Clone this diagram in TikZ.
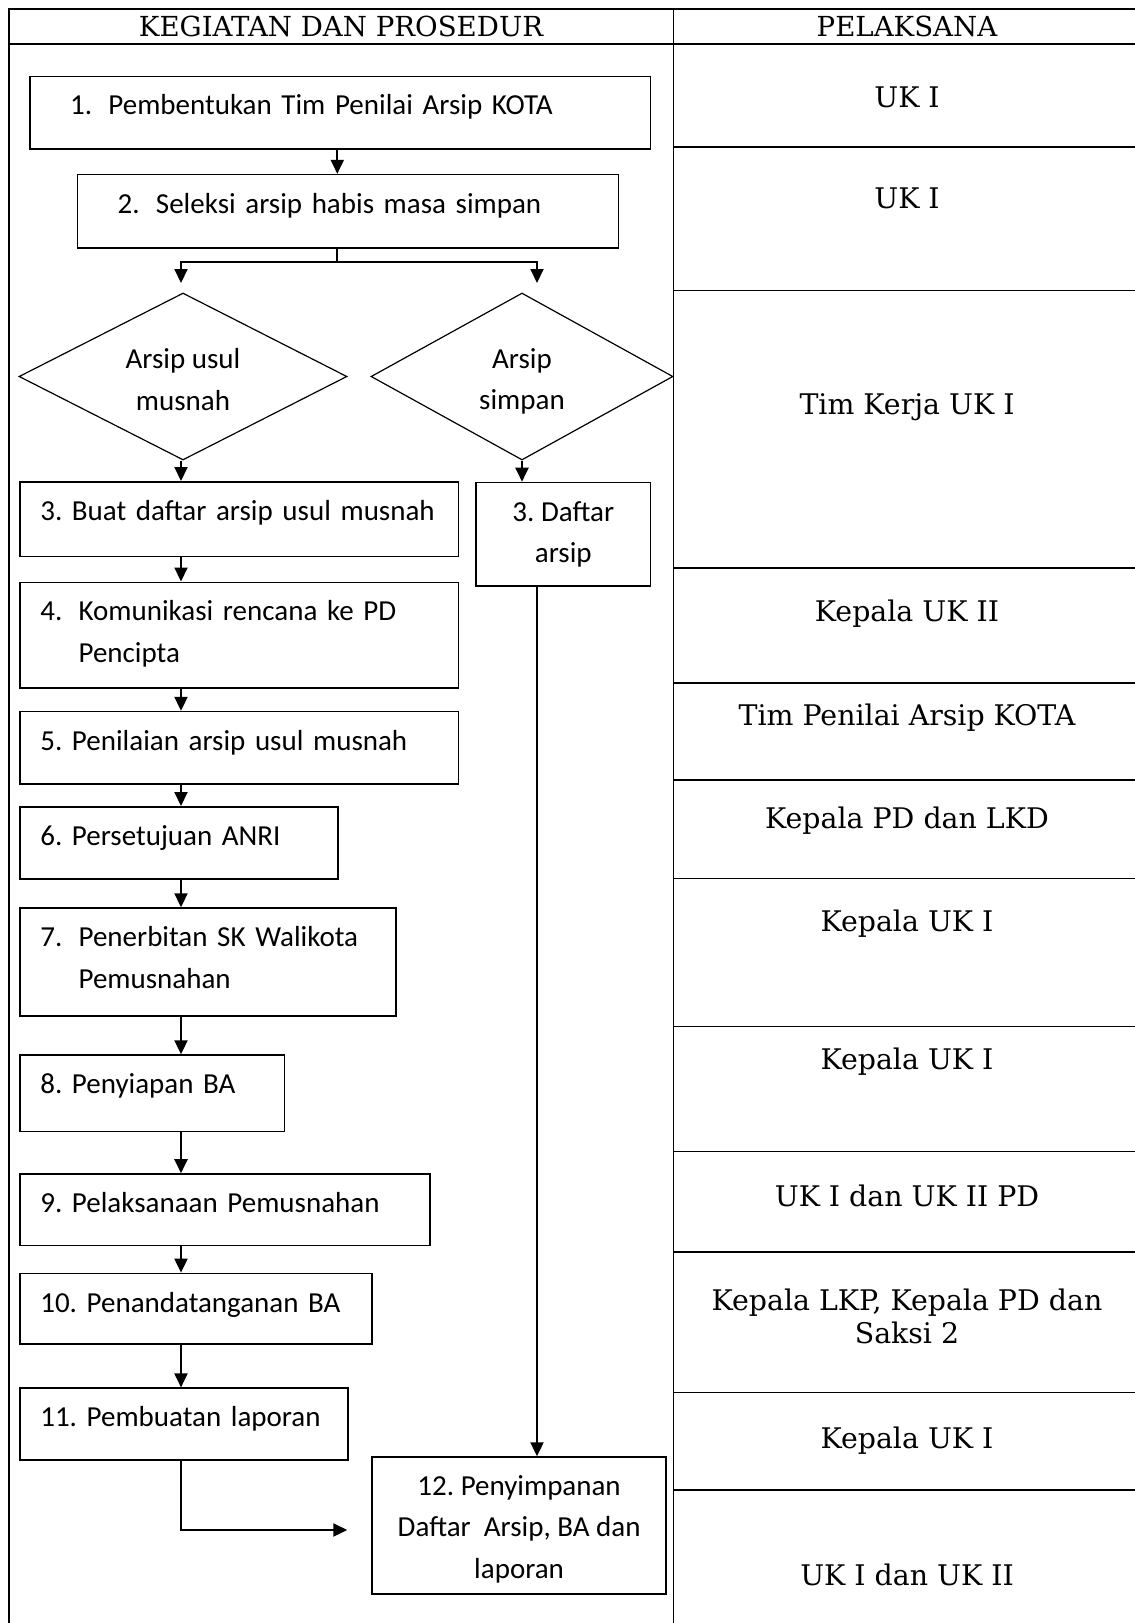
\documentclass[tikz,border=0pt]{standalone}
\usepackage{fontspec}
\setmainfont{DejaVu Serif}
\newfontfamily\calibri{Carlito}
\usetikzlibrary{arrows.meta,shapes.geometric}

\newcommand{\itemno}[1]{\makebox[38.3pt][l]{#1}}
\newcommand{\topstrut}[1]{\rule{0pt}{#1}}

\begin{document}
\begin{tikzpicture}[
  x=1pt, y=-1pt,
  >={Triangle[width=13pt,length=14pt]},
  boxfont/.style={font=\calibri\fontsize{29pt}{41.4pt}\selectfont\frenchspacing},
  proc/.style={draw, line width=1.6pt, anchor=north west, align=left, inner ysep=0pt, inner xsep=20.5pt,
    text height=38.6pt, boxfont},
  store/.style={draw, line width=1.6pt, anchor=north west, align=center, inner sep=0pt, boxfont},
  decision/.style={diamond, aspect=2, draw, line width=1.2pt, inner sep=0pt, minimum height=167pt,
    align=center, boxfont},
  head/.style={anchor=base, font=\fontsize{27.6pt}{33pt}\selectfont},
  pel/.style={anchor=base, font=\fontsize{28.4pt}{33pt}\selectfont},
  rule/.style={line width=1.5pt},
  line/.style={line width=2pt},
  arrow/.style={->, line width=2pt}
]
\useasboundingbox (0,0) rectangle (1135,1623);

% Table
\draw[line width=2pt] (1135,8.5) -- (8.5,8.5) -- (8.5,1623);
\draw[rule] (673.5,8.5) -- (673.5,1623);
\draw[line width=2pt] (8.5,43.5) -- (1135,43.5);
\draw[rule] (673.5,146.9) -- (1135,146.9)
  (673.5,290.7) -- (1135,290.7)
  (673.5,568) -- (1135,568)
  (673.5,682.8) -- (1135,682.8)
  (673.5,780.1) -- (1135,780.1)
  (673.5,878.4) -- (1135,878.4)
  (673.5,1026.3) -- (1135,1026.3)
  (673.5,1151.5) -- (1135,1151.5)
  (673.5,1251.9) -- (1135,1251.9)
  (673.5,1392.6) -- (1135,1392.6)
  (673.5,1489.8) -- (1135,1489.8);

\node[head] (hkeg) at (341,36) {KEGIATAN DAN PROSEDUR};
\node[head] (hpel) at (907,36) {PELAKSANA};

% Pelaksana
\node[pel] (p1) at (907,107.3) {UK I};
\node[pel] (p2) at (907,208.7) {UK I};
\node[pel] (p3) at (907,414.6) {Tim Kerja UK I};
\node[pel] (p4) at (907,621.5) {Kepala UK II};
\node[pel] (p5) at (907,725) {Tim Penilai Arsip KOTA};
\node[pel] (p6) at (907,828.4) {Kepala PD dan LKD};
\node[pel] (p7) at (907,931.9) {Kepala UK I};
\node[pel] (p8) at (907,1069.5) {Kepala UK I};
\node[pel] (p9) at (907,1206) {UK I dan UK II PD};
\node[pel] (p10) at (907,1310.5) {\begin{tabular}[t]{@{}c@{}}Kepala LKP, Kepala PD dan\\Saksi 2\end{tabular}};
\node[pel] (p11) at (907,1448) {Kepala UK I};
\node[pel] (p12) at (907,1585.7) {UK I dan UK II};

% Kegiatan
\node[proc, inner xsep=40.3pt, text width=540pt, text depth=33.9pt] (b1) at (29,75.5) {\itemno{1.}Pembentukan Tim Penilai Arsip KOTA};
\node[proc, inner xsep=40.3pt, text width=460.5pt, text depth=34.9pt] (b2) at (76.6,173.8) {\itemno{2.}Seleksi arsip habis masa simpan};

\node[decision, minimum width=328pt] (d1) at (183,376.5) {\topstrut{26pt}Arsip usul\\musnah};
\node[decision, minimum width=302pt] (d2) at (522,376.5) {\topstrut{30pt}Arsip\\simpan};

\node[proc, text width=397.5pt, text depth=36.1pt] (b3) at (19,481) {3. Buat daftar arsip usul musnah};
\node[store, minimum width=174.2pt, minimum height=103.3pt] (b3b) at (475.4,481.7) {3. Daftar\\arsip};
\node[proc, text width=397.5pt, text depth=66.9pt] (b4) at (19,581.5) {\itemno{4.}Komunikasi rencana ke PD\\\hspace*{38.3pt}Pencipta};
\node[proc, text width=397.5pt, text depth=33.8pt] (b5) at (19,710.8) {5. Penilaian arsip usul musnah};
\node[proc, text width=277.3pt, text depth=33.8pt] (b6) at (19,806) {6. Persetujuan ANRI};
\node[proc, text width=335.2pt, text depth=69.1pt] (b7) at (19,907.3) {\itemno{7.}Penerbitan SK Walikota\\\hspace*{38.3pt}Pemusnahan};
\node[proc, text width=223.5pt, text depth=37.9pt] (b8) at (19,1054.3) {8. Penyiapan BA};
\node[proc, text width=369.4pt, text depth=32.8pt] (b9) at (19,1173.2) {9. Pelaksanaan Pemusnahan};
\node[proc, text width=311.4pt, text depth=31.8pt] (b10) at (19,1272.6) {10. Penandatanganan BA};
\node[proc, text width=287.3pt, text depth=33.4pt] (b11) at (19,1387.4) {11. Pembuatan laporan};
\node[store, minimum width=293.8pt, minimum height=137pt] (b12) at (371.4,1456.3) {\topstrut{27pt}12. Penyimpanan\\Daftar~ Arsip, BA dan\\laporan};

% Connectors
\coordinate (spine) at (181,0);
\coordinate (rspine) at (537,0);
\coordinate (split) at (337.3,261.8);
\coordinate (inL) at (181,283);
\coordinate (inR) at (537,283);
\coordinate (rep) at (347.3,1530);

\draw[arrow] (b1.south -| split) -- (b2.north -| split);
\draw[line] (b2.south -| split) -- (split);
\draw[arrow] (split) -| (inL);
\draw[arrow] (split) -| (inR);
\draw[arrow] (d1.south -| spine) -- (b3.north -| spine);
\draw[arrow] (d2.south) -- (d2.south |- b3b.north);
\draw[arrow] (b3.south -| spine) -- (b4.north -| spine);
\draw[arrow] (b4.south -| spine) -- (b5.north -| spine);
\draw[arrow] (b5.south -| spine) -- (b6.north -| spine);
\draw[arrow] (b6.south -| spine) -- (b7.north -| spine);
\draw[arrow] (b7.south -| spine) -- (b8.north -| spine);
\draw[arrow] (b8.south -| spine) -- (b9.north -| spine);
\draw[arrow] (b9.south -| spine) -- (b10.north -| spine);
\draw[arrow] (b10.south -| spine) -- (b11.north -| spine);
\draw[arrow] (b11.south -| spine) |- (rep);
\draw[arrow] (b3b.south -| rspine) -- (b12.north -| rspine);

\end{tikzpicture}
\end{document}
